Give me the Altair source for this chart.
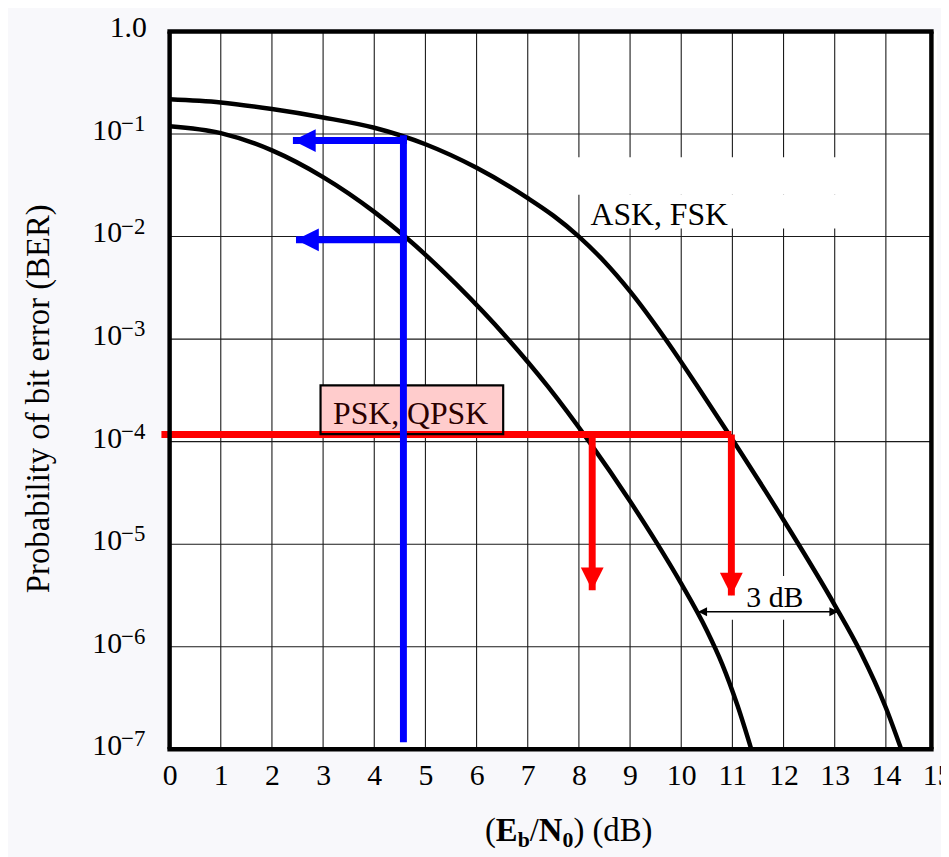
import altair as alt
import pandas as pd

FONT = "Liberation Serif"

# ---------------- values ----------------
psk_db = [0, 1, 2, 3, 4, 4.6, 5.6, 6.6, 7.4, 8.2, 9, 9.5, 10, 10.5, 10.8, 11.1, 11.37]
psk_ber = [0.119, 0.102, 0.0692, 0.0380, 0.0174, 0.0100, 0.00343, 0.00102, 3.42e-4, 1.0e-4,
           2.62e-5, 1.07e-5, 4.12e-6, 1.44e-6, 6.78e-7, 2.67e-7, 1.0e-7]

ask_db = [0, 1, 2, 3, 4, 5, 6, 7, 7.5, 8, 8.5, 9, 9.68, 10.3, 11, 12, 13, 13.5, 14, 14.3]
ask_ber = [0.218, 0.203, 0.175, 0.145, 0.115, 0.0794, 0.0468, 0.0237, 0.0160, 0.0100, 0.00568,
           0.00292, 0.00102, 3.57e-4, 1.05e-4, 1.72e-5, 2.55e-6, 8.99e-7, 2.54e-7, 1.0e-7]

x_ticks = list(range(0, 16))
x_grid = list(range(1, 15))
y_decades = [1, 1e-1, 1e-2, 1e-3, 1e-4, 1e-5, 1e-6, 1e-7]
y_base = ["1.0", "10", "10", "10", "10", "10", "10", "10"]
y_exp = ["", "−1", "−2", "−3", "−4", "−5", "−6", "−7"]

x_frame_max = 14.89

series_names = ["PSK, QPSK", "ASK, FSK"]
gap_label = "3 dB"
y_title = "Probability of bit error (BER)"

# red: BER target and the Eb/N0 needed by each scheme
target_ber = 1.175e-4
red_start_db = -0.16
target_db = [8.26, 10.98]
target_tip_ber = [3.55e-6, 3.16e-6]

# blue: BER of each scheme at a fixed Eb/N0
blue_db = 4.57
blue_ber = [0.0863, 0.00929]
blue_tip_db = [2.41, 2.47]
blue_top_ber = 0.0971
blue_bottom_ber = 1.17e-7

# 3 dB gap
gap_ber = 2.19e-6
gap_db = [10.33, 13.07]

# ---------------- scales / axes ----------------
X_SCALE = alt.Scale(domain=[0, 15], nice=False, zero=False)
Y_SCALE = alt.Scale(type="log", domain=[1e-7, 1], nice=False)
X_AXIS = alt.Axis(values=x_ticks, format="d", labelFont=FONT, labelFontSize=30, labelColor="black",
                  labelPadding=12, ticks=False, tickSize=0, domain=False, grid=False, title=None,
                  labelFlush=False, labelOverlap=False)
Y_AXIS = alt.Axis(labels=False, ticks=False, domain=False, grid=False, title=y_title,
                  titleFont=FONT, titleFontSize=33, titleFontWeight="normal", titleColor="black",
                  titleAngle=270, titleX=-122, titleY=370, titleAlign="center",
                  titleBaseline="alphabetic")


def X(f):
    return alt.X(f, type="quantitative", scale=X_SCALE, axis=X_AXIS)


def Y(f):
    return alt.Y(f, type="quantitative", scale=Y_SCALE, axis=Y_AXIS)


GRID = "#1a1a1a"
layers = []

# grid
layers.append(alt.Chart(pd.DataFrame({"db": x_grid})).mark_rule(color=GRID, strokeWidth=1.1)
              .encode(x=X("db")))
hg = pd.DataFrame({"ber": y_decades[1:-1], "x0": 0.0, "x1": x_frame_max})
layers.append(alt.Chart(hg).mark_rule(color=GRID, strokeWidth=1.1)
              .encode(x=X("x0"), x2="x1", y=Y("ber")))

# white label backgrounds that interrupt the grid
wb = pd.DataFrame({"x0": [7.9, 8.05, 10.5], "x1": [13.5, 13.5, 12.9],
                   "y0": [0.0594, 0.02553, 4.89e-6], "y1": [0.02553, 0.01197, 1.83e-6]})
layers.append(alt.Chart(wb).mark_rect(color="white")
              .encode(x=X("x0"), x2="x1", y=Y("y0"), y2="y1"))

# curves
curves = pd.DataFrame({
    "db": psk_db + ask_db,
    "ber": psk_ber + ask_ber,
    "s": [series_names[0]] * len(psk_db) + [series_names[1]] * len(ask_db),
})
layers.append(alt.Chart(curves).mark_line(color="black", strokeWidth=4.5, interpolate="monotone")
              .encode(x=X("db"), y=Y("ber"), detail="s:N"))

# PSK label box fill
box = pd.DataFrame({"x0": [2.95], "x1": [6.52], "y0": [3.53e-4], "y1": [1.186e-4]})
layers.append(alt.Chart(box).mark_rect(fill="#ffcccc", stroke=None)
              .encode(x=X("x0"), x2="x1", y=Y("y0"), y2="y1"))

RED = "#ff0000"
BLUE = "#0000ff"
# red horizontal
layers.append(alt.Chart(pd.DataFrame({"a": [red_start_db], "b": [target_db[1]], "y": [target_ber]}))
              .mark_rule(color=RED, strokeWidth=7).encode(x=X("a"), x2="b", y=Y("y")))
# red vertical arrows
rv = pd.DataFrame({"db": target_db, "y0": [target_ber] * 2, "y1": target_tip_ber})
layers.append(alt.Chart(rv).mark_rule(color=RED, strokeWidth=7)
              .encode(x=X("db"), y=Y("y0"), y2="y1"))
layers.append(alt.Chart(rv).mark_point(shape="M-1,-1L1,-1L0,1Z", size=529, filled=True, color=RED,
                                       opacity=1, strokeWidth=0, yOffset=-11.5)
              .encode(x=X("db"), y=Y("y1")))

# PSK label box outline + text
layers.append(alt.Chart(box).mark_rect(fill=None, stroke="black", strokeWidth=2.2)
              .encode(x=X("x0"), x2="x1", y=Y("y0"), y2="y1"))
layers.append(alt.Chart(pd.DataFrame({"db": [4.71], "ber": [1.50e-4], "t": [series_names[0]]}))
              .mark_text(font=FONT, fontSize=32, color="#2a0000", align="center", baseline="alphabetic")
              .encode(x=X("db"), y=Y("ber"), text="t:N"))

# blue lines
layers.append(alt.Chart(pd.DataFrame({"db": [blue_db], "y0": [blue_top_ber], "y1": [blue_bottom_ber]}))
              .mark_rule(color=BLUE, strokeWidth=7).encode(x=X("db"), y=Y("y0"), y2="y1"))
bh = pd.DataFrame({"a": [blue_db + 0.07] * 2, "b": blue_tip_db, "y": blue_ber})
layers.append(alt.Chart(bh).mark_rule(color=BLUE, strokeWidth=7).encode(x=X("a"), x2="b", y=Y("y")))
layers.append(alt.Chart(bh).mark_point(shape="M1,-1L1,1L-1,0Z", size=529, filled=True, color=BLUE,
                                       opacity=1, strokeWidth=0, xOffset=11.5)
              .encode(x=X("b"), y=Y("y")))

# 3 dB gap arrow
layers.append(alt.Chart(pd.DataFrame({"a": [gap_db[0]], "b": [gap_db[1]], "y": [gap_ber]}))
              .mark_rule(color="black", strokeWidth=1.5).encode(x=X("a"), x2="b", y=Y("y")))
layers.append(alt.Chart(pd.DataFrame({"db": [gap_db[0]], "y": [gap_ber]}))
              .mark_point(shape="M1,-1L-1,0L1,1Z", size=81, filled=True, color="black", opacity=1,
                          strokeWidth=0, xOffset=4.5).encode(x=X("db"), y=Y("y")))
layers.append(alt.Chart(pd.DataFrame({"db": [gap_db[1]], "y": [gap_ber]}))
              .mark_point(shape="M-1,-1L1,0L-1,1Z", size=81, filled=True, color="black", opacity=1,
                          strokeWidth=0, xOffset=-4.5).encode(x=X("db"), y=Y("y")))
layers.append(alt.Chart(pd.DataFrame({"db": [11.83], "ber": [2.45e-6], "t": [gap_label]}))
              .mark_text(font=FONT, fontSize=30, color="black", align="center", baseline="alphabetic")
              .encode(x=X("db"), y=Y("ber"), text="t:N"))

# ASK label
layers.append(alt.Chart(pd.DataFrame({"db": [9.57], "ber": [0.01297], "t": [series_names[1]]}))
              .mark_text(font=FONT, fontSize=32, color="black", align="center", baseline="alphabetic")
              .encode(x=X("db"), y=Y("ber"), text="t:N"))

# frame
layers.append(alt.Chart(pd.DataFrame({"db": [0.0, x_frame_max]}))
              .mark_rule(color="black", strokeWidth=4.5).encode(x=X("db")))
fr = pd.DataFrame({"ber": [1.0, 1e-7], "x0": 0.0, "x1": x_frame_max})
layers.append(alt.Chart(fr).mark_rule(color="black", strokeWidth=4.5, strokeCap="square")
              .encode(x=X("x0"), x2="x1", y=Y("ber")))

# y tick labels (10 with superscript exponent)
yl = pd.DataFrame({"ber": y_decades, "base": y_base, "exp": y_exp})
layers.append(alt.Chart(yl[yl["exp"] != ""]).mark_text(font=FONT, fontSize=30, color="black", align="right",
                                                     baseline="alphabetic", dy=6)
              .encode(x=alt.value(-48), y=Y("ber"), text="base:N"))
layers.append(alt.Chart(yl[yl["exp"] == ""]).mark_text(font=FONT, fontSize=30, color="black", align="right",
                                                     baseline="alphabetic", dy=6)
              .encode(x=alt.value(-23), y=Y("ber"), text="base:N"))
layers.append(alt.Chart(yl[yl["exp"] != ""]).mark_text(font=FONT, fontSize=23, color="black", align="left",
                                                     baseline="alphabetic", dy=-3)
              .encode(x=alt.value(-49), y=Y("ber"), text="exp:N"))

# x title  (E_b/N_0) (dB)
pieces = [("(", 33, "normal", 0, 0.333), ("E", 33, "bold", 0, 0.667), ("b", 22, "bold", 6, 0.556),
          ("/", 33, "normal", 0, 0.278), ("N", 33, "bold", 0, 0.722), ("0", 22, "bold", 6, 0.5),
          (")", 33, "normal", 0, 0.333), ("(dB)", 33, "normal", 0, 1.833)]
px = 318.0
for i, (t, fs, fw, dy, w) in enumerate(pieces):
    if t == "(dB)":
        px += 0.25 * 33
    layers.append(alt.Chart(pd.DataFrame({"t": [t]}))
                  .mark_text(font=FONT, fontSize=fs, fontWeight=fw, color="black", align="left",
                             baseline="alphabetic", dy=dy)
                  .encode(x=alt.value(px), y=alt.value(817), text="t:N"))
    px += w * fs

chart = alt.layer(*layers).properties(
    width=774, height=724,
    padding={"left": 163, "top": 20, "right": 4, "bottom": 105},
    autosize=alt.AutoSizeParams(type="none"),
    background="#f8f8fb",
).configure_view(stroke=None, fill="white")

chart.save("out.html", embed_options={"renderer": "svg", "actions": False})
